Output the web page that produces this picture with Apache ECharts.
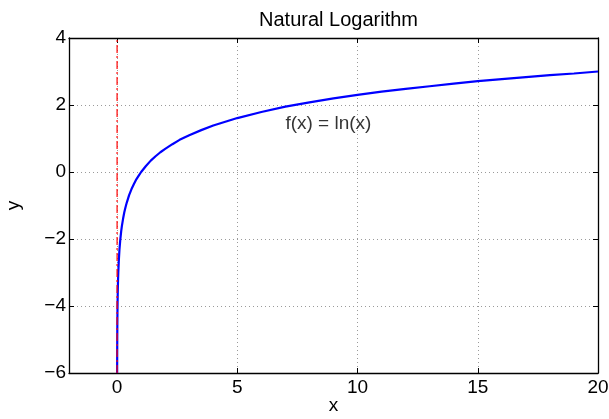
<!DOCTYPE html>
<html>
<head>
<meta charset="utf-8">
<script src="https://cdn.jsdelivr.net/npm/echarts@6/dist/echarts.min.js"></script>
<style>
  html, body { margin: 0; padding: 0; background: #fff; }
  #chart { width: 609px; height: 419px; }
</style>
</head>
<body>
<div id="chart"></div>
<script>
// curve samples
var xVals = [0.0025, 0.003, 0.004, 0.005, 0.007, 0.01, 0.015, 0.02, 0.03, 0.04, 0.05, 0.07, 0.1, 0.13, 0.17, 0.2, 0.25, 0.3, 0.35, 0.4, 0.5, 0.6, 0.7, 0.8, 0.9, 1, 1.2, 1.4, 1.6, 1.8, 2, 2.3, 2.6, 3, 3.5, 4, 4.5, 5, 6, 7, 8, 9, 10, 11, 12, 13, 14, 15, 16, 17, 18, 19, 20];
var yVals = [-6, -5.81, -5.52, -5.3, -4.96, -4.61, -4.2, -3.91, -3.51, -3.22, -3.0, -2.66, -2.3, -2.04, -1.77, -1.61, -1.39, -1.2, -1.05, -0.92, -0.69, -0.51, -0.36, -0.22, -0.11, 0, 0.18, 0.34, 0.47, 0.59, 0.69, 0.83, 0.96, 1.1, 1.25, 1.39, 1.5, 1.61, 1.79, 1.95, 2.08, 2.2, 2.3, 2.4, 2.48, 2.56, 2.64, 2.71, 2.77, 2.83, 2.89, 2.94, 3.0];
var xTicks = [0, 5, 10, 15, 20];
var asymptoteX = [0, 0];
var asymptoteY = [-6, 4];
var labelPos = [7, 1.45];

var font = "'Liberation Sans', Arial, Helvetica, sans-serif";
var chart = echarts.init(document.getElementById("chart"));

var curve = xVals.map(function (x, i) { return [x, yVals[i]]; });
var asym = asymptoteX.map(function (x, i) { return [x, asymptoteY[i]]; });

function minus(v) {
  return String(v).replace("-", "\u2212");
}

var tickStyle = { show: true, inside: true, length: 5, lineStyle: { color: "#000", width: 1 } };
var lineStyle = { show: true, onZero: false, lineStyle: { color: "#000", width: 1.3 } };
var gridLine = { show: true, lineStyle: { color: "#9a9a9a", type: [1, 3], width: 1 } };

chart.setOption({
  animation: false,
  textStyle: { fontFamily: font },
  title: {
    text: "Natural Logarithm",
    left: 333.5,
    top: 5,
    textAlign: "center",
    textStyle: { fontFamily: font, fontWeight: "normal", fontSize: 20, color: "#000" },
  },
  grid: { left: 69, right: 11, top: 38, bottom: 46, outerBoundsMode: "none" },
  xAxis: [
    {
      type: "value",
      min: -2,
      max: 20,
      name: "x",
      nameLocation: "middle",
      nameGap: 23,
      nameMoveOverlap: false,
      nameTextStyle: { fontFamily: font, fontSize: 19, color: "#000" },
      axisLine: lineStyle,
      axisTick: Object.assign({}, tickStyle, { customValues: xTicks }),
      axisLabel: { customValues: xTicks, fontSize: 19, color: "#000", margin: 5, formatter: minus },
      splitLine: gridLine,
    },
    {
      type: "value",
      position: "top",
      min: -2,
      max: 20,
      axisLine: lineStyle,
      axisTick: Object.assign({}, tickStyle, { customValues: xTicks }),
      axisLabel: { show: false },
      splitLine: { show: false },
    },
  ],
  yAxis: [
    {
      type: "value",
      min: -6,
      max: 4,
      interval: 2,
      name: "y",
      nameLocation: "middle",
      nameGap: 46,
      nameMoveOverlap: false,
      nameTextStyle: { fontFamily: font, fontSize: 19, color: "#000" },
      axisLine: lineStyle,
      axisTick: tickStyle,
      axisLabel: { fontSize: 19, color: "#000", margin: 3, formatter: minus },
      splitLine: gridLine,
    },
    {
      type: "value",
      position: "right",
      min: -6,
      max: 4,
      interval: 2,
      axisLine: lineStyle,
      axisTick: tickStyle,
      axisLabel: { show: false },
      splitLine: { show: false },
    },
  ],
  series: [
    {
      name: "ln",
      type: "line",
      data: curve,
      showSymbol: false,
      smooth: false,
      lineStyle: { color: "#0000ff", width: 2.2 },
      z: 3,
    },
    {
      name: "asymptote",
      type: "line",
      data: asym,
      showSymbol: false,
      lineStyle: { color: "#ff0000", width: 1.2, type: [8, 3, 2, 3] },
      z: 4,
    },
    {
      name: "label",
      type: "scatter",
      data: [labelPos],
      symbolSize: 0,
      label: {
        show: true,
        position: "right",
        distance: 0,
        formatter: "f(x) = ln(x)",
        fontFamily: font,
        fontSize: 19,
        color: "#000",
      },
      z: 5,
    },
  ],
});
</script>
</body>
</html>
